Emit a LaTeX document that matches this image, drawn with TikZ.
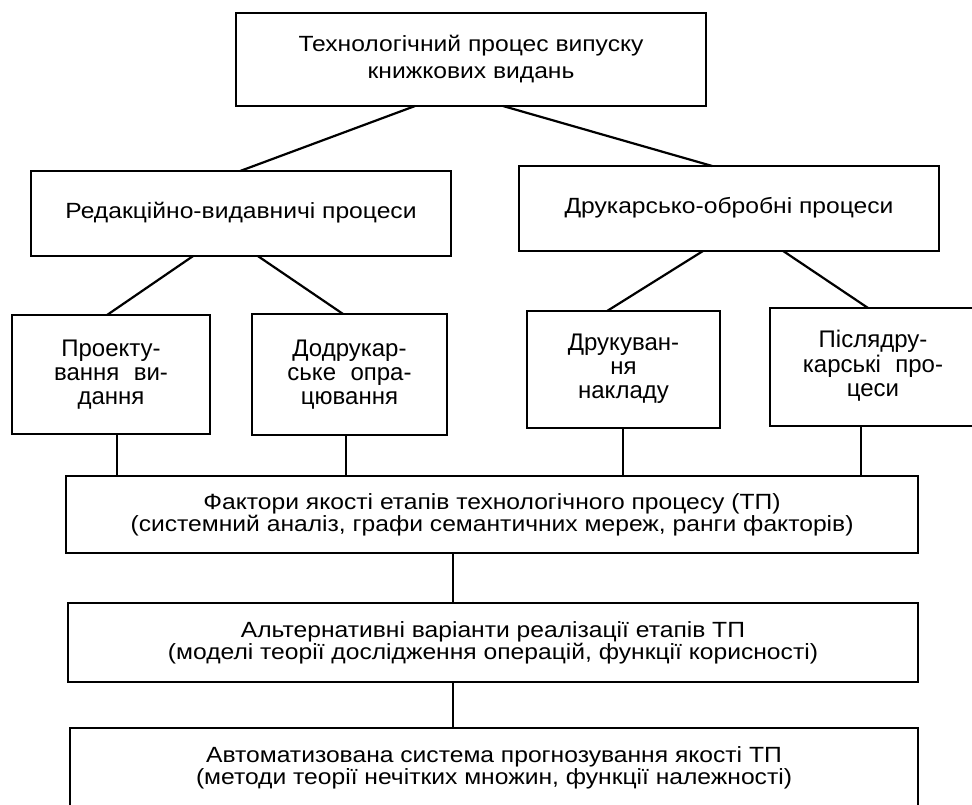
\documentclass[tikz,border=0pt]{standalone}
\usepackage{fontspec}
\setmainfont{Liberation Sans}
\newfontfamily\widefont[FakeStretch=1.12]{Liberation Sans}
\usetikzlibrary{calc}
\begin{document}
\begin{tikzpicture}[x=1pt,y=-1pt,
  box/.style={draw, line width=2.4pt, rectangle, anchor=north west, inner sep=0pt, outer sep=0pt, align=center},
  big/.style={font=\widefont\fontsize{22}{27}\selectfont},
  mid/.style={font=\widefont\fontsize{22}{22}\selectfont},
  small/.style={font=\fontsize{24}{24}\selectfont},
  conn/.style={line width=2.2pt}]
\useasboundingbox (0,0) rectangle (972,804);
\clip (0,0) rectangle (972,804);
\fill[white] (0,0) rectangle (972,804);

\node[box,big,minimum width=470pt,minimum height=93pt] (top) at (236,13)
  {Технологічний процес випуску\\книжкових видань};
\node[box,big,minimum width=420pt,minimum height=85pt] (lm) at (31,171)
  {\raisebox{6pt}{Редакційно-видавничі процеси}};
\node[box,big,minimum width=420pt,minimum height=85pt] (rm) at (519,166)
  {\raisebox{6pt}{Друкарсько-обробні процеси}};

\node[box,small,minimum width=198pt,minimum height=119pt] (p1) at (12,315)
  {Проекту-\\вання\hspace{0.6em}ви-\\дання};
\node[box,small,minimum width=195pt,minimum height=121pt] (p2) at (252,314)
  {Додрукар-\\ське\hspace{0.6em}опра-\\цювання};
\node[box,small,minimum width=193pt,minimum height=117pt] (p3) at (527,311)
  {\raisebox{10pt}{\begin{tabular}{@{}c@{}}Друкуван-\\ня\\накладу\end{tabular}}};
\node[box,small,minimum width=206pt,minimum height=118pt] (p4) at (770,308)
  {\raisebox{2pt}{\begin{tabular}{@{}c@{}}Післядру-\\карські\hspace{0.6em}про-\\цеси\end{tabular}}};

\node[box,mid,minimum width=852pt,minimum height=77pt] (fac) at (66,476)
  {Фактори якості етапів технологічного процесу (ТП)\\(системний аналіз, графи семантичних мереж, ранги факторів)};
\node[box,mid,minimum width=850pt,minimum height=79pt] (alt) at (68,603)
  {Альтернативні варіанти реалізації етапів ТП\\(моделі теорії дослідження операцій, функції корисності)};
\node[box,mid,minimum width=848pt,minimum height=82pt] (aut) at (70,728)
  {\raisebox{3pt}{\begin{tabular}{@{}c@{}}Автоматизована система прогнозування якості ТП\\(методи теорії нечітких множин, функції належності)\end{tabular}}};

\draw[conn] ($(top.south west)!0.381!(top.south east)$) -- ($(lm.north west)!0.498!(lm.north east)$);
\draw[conn] ($(top.south west)!0.568!(top.south east)$) -- ($(rm.north west)!0.460!(rm.north east)$);
\draw[conn] ($(lm.south west)!0.386!(lm.south east)$) -- ($(p1.north west)!0.480!(p1.north east)$);
\draw[conn] ($(lm.south west)!0.540!(lm.south east)$) -- ($(p2.north west)!0.467!(p2.north east)$);
\draw[conn] ($(rm.south west)!0.438!(rm.south east)$) -- ($(p3.north west)!0.415!(p3.north east)$);
\draw[conn] ($(rm.south west)!0.629!(rm.south east)$) -- ($(p4.north west)!0.476!(p4.north east)$);
\draw[conn] ($(p1.south west)!0.530!(p1.south east)$) coordinate (v1) -- (v1 |- fac.north);
\draw[conn] ($(p2.south west)!0.482!(p2.south east)$) coordinate (v2) -- (v2 |- fac.north);
\draw[conn] ($(p3.south west)!0.497!(p3.south east)$) coordinate (v3) -- (v3 |- fac.north);
\draw[conn] ($(p4.south west)!0.442!(p4.south east)$) coordinate (v4) -- (v4 |- fac.north);
\draw[conn] ($(fac.south west)!0.454!(fac.south east)$) coordinate (v5) -- (v5 |- alt.north);
\draw[conn] ($(alt.south west)!0.453!(alt.south east)$) coordinate (v6) -- (v6 |- aut.north);
\end{tikzpicture}
\end{document}
